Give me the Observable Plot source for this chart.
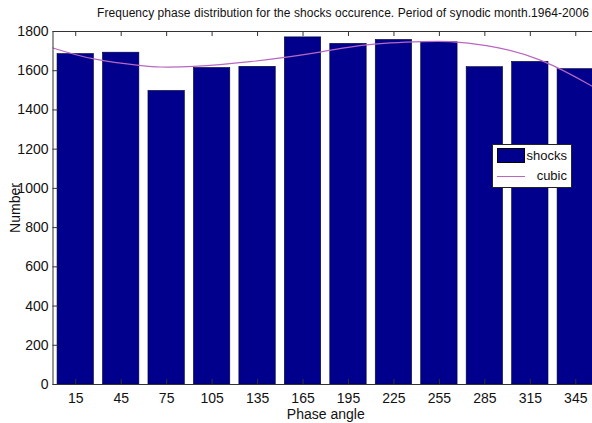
<!DOCTYPE html>
<html>
<head>
<meta charset="utf-8">
<script src="https://cdn.jsdelivr.net/npm/d3@7"></script>
<script src="https://cdn.jsdelivr.net/npm/@observablehq/plot@0.6"></script>
<style>
html, body { margin: 0; padding: 0; overflow: hidden; background: #fff; width: 592px; height: 423px; }
#wrap { position: relative; width: 592px; height: 423px; overflow: hidden; font-family: "Liberation Sans", Arial, sans-serif; color: #111; }
#title { position: absolute; left: 97px; top: 7px; font-size: 12px; line-height: 12px; white-space: nowrap; }
#chart { position: absolute; left: 0; top: 0; width: 600px; height: 423px; }
#chart svg { max-width: none !important; width: 600px !important; height: 423px !important; }
#legend { position: absolute; left: 492px; top: 144px; width: 80px; height: 44px; box-sizing: border-box; border: 1px solid #222; background: #fff; font-size: 13px; }
#legend .patch { position: absolute; left: 4px; top: 3px; width: 28px; height: 15px; box-sizing: border-box; background: #00008c; border: 1px solid #000; }
#legend .ln { position: absolute; left: 4px; top: 31px; width: 28px; height: 0; border-top: 1px solid #b868c0; }
#legend .t1 { position: absolute; right: 4px; top: 4px; line-height: 14px; }
#legend .t2 { position: absolute; right: 4px; top: 24px; line-height: 14px; }
</style>
</head>
<body>
<div id="wrap">
  <div id="chart"></div>
  <div id="title"></div>
  <div id="legend"><div class="patch"></div><div class="t1"></div><div class="ln"></div><div class="t2"></div></div>
</div>
<script>
const titleText = "Frequency phase distribution for the shocks occurence. Period of synodic month.1964-2006";
const xLabel = "Phase angle";
const yLabel = "Number";
const seriesNames = ["shocks", "cubic"];

// Bar categories (phase angle centres) and counts
const angles = [15, 45, 75, 105, 135, 165, 195, 225, 255, 285, 315, 345];
const counts = [1685, 1692, 1497, 1614, 1620, 1770, 1737, 1757, 1745, 1618, 1645, 1608];

// Y tick values
const yTicks = [0, 200, 400, 600, 800, 1000, 1200, 1400, 1600, 1800];

// Cubic fit curve
const cubicAngles = [0, 27, 58, 71, 93, 130, 174, 207, 244, 262, 286, 322, 356, 360];
const cubicValues = [1716, 1660, 1626, 1619, 1622, 1646, 1692, 1732, 1748, 1748, 1728, 1653, 1520, 1500];

const barHalfWidth = 12;

const bars = angles.map((a, i) => ({angle: a, count: counts[i]}));
const cubic = cubicAngles.map((a, i) => ({angle: a, value: cubicValues[i]}));

const axisColor = "#333";
const W = 600, H = 423, mT = 31, mB = 39, mL = 52.5, mR = 2;
const plotW = W - mL - mR, plotH = H - mT - mB, tick = 5;

const chart = Plot.plot({
  width: W,
  height: H,
  marginTop: mT,
  marginBottom: mB,
  marginLeft: mL,
  marginRight: mR,
  style: {fontFamily: "Liberation Sans, Arial, sans-serif", fontSize: "14px", color: "#111", background: "transparent", maxWidth: "none"},
  x: {domain: [0, 360]},
  y: {domain: [0, 1800]},
  marks: [
    Plot.rectY(bars, {x1: d => d.angle - barHalfWidth, x2: d => d.angle + barHalfWidth, y: "count", fill: "#00008c", stroke: "#000033", strokeWidth: 0.6}),
    Plot.line(cubic, {x: "angle", y: "value", curve: "natural", stroke: "#b868c0", strokeWidth: 1.2}),
    Plot.frame({stroke: axisColor}),
    // labels
    Plot.axisX({anchor: "bottom", ticks: angles, tickSize: 0, tickPadding: 8.5, label: xLabel, labelAnchor: "center", labelArrow: "none", labelOffset: 34}),
    Plot.axisY({anchor: "left", ticks: yTicks, tickSize: 0, tickPadding: 4.5, tickFormat: "d", label: yLabel, labelAnchor: "center", labelArrow: "none", labelOffset: 42.5}),
    // inward tick marks
    Plot.tickX(angles, {x: d => d, insetBottom: plotH - tick, stroke: axisColor}),
    Plot.tickX(angles, {x: d => d, insetTop: plotH - tick, stroke: axisColor}),
    Plot.tickY(yTicks, {y: d => d, insetRight: plotW - tick, stroke: axisColor})
  ]
});
document.getElementById("chart").appendChild(chart);
const titleEl = document.getElementById("title");
titleEl.textContent = titleText;
// stretch the title to span the same width as in the reference
const targetTitleWidth = 492;
const w0 = titleEl.getBoundingClientRect().width;
titleEl.style.letterSpacing = ((targetTitleWidth - w0) / titleText.length) + "px";
document.querySelector("#legend .t1").textContent = seriesNames[0];
document.querySelector("#legend .t2").textContent = seriesNames[1];
</script>
</body>
</html>
